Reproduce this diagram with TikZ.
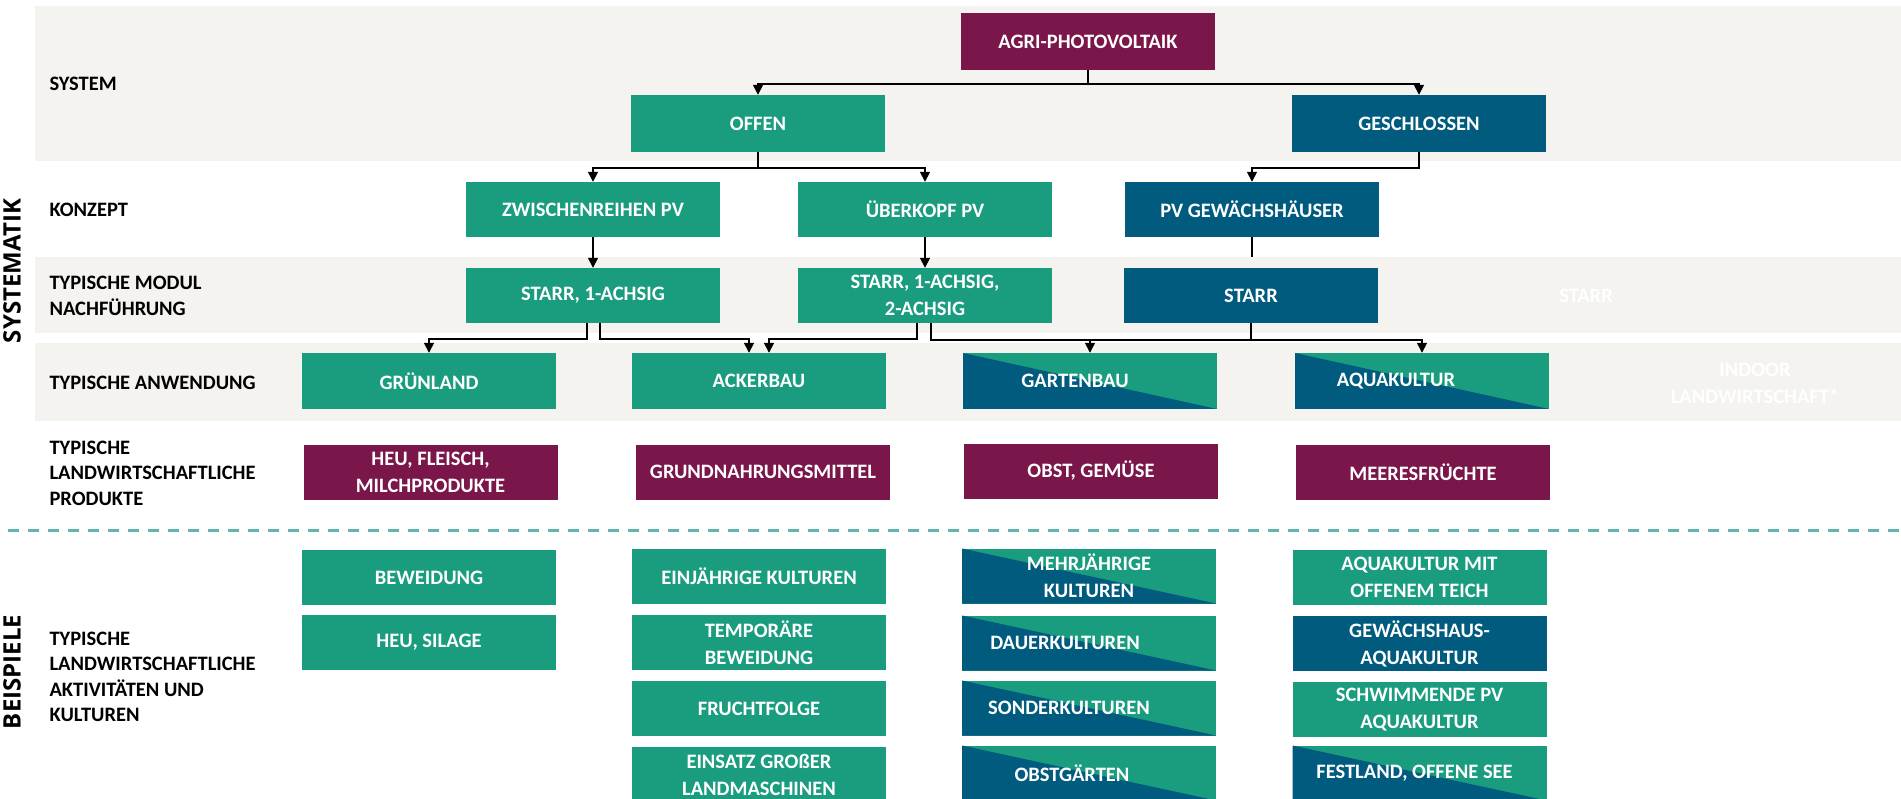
\documentclass[tikz,border=0pt]{standalone}
\usepackage{fontspec}
\setmainfont{Carlito}
\newfontfamily\sidefont{Open Sans}
\usetikzlibrary{arrows.meta}
\definecolor{grn}{HTML}{1A9D7F}
\definecolor{blu}{HTML}{005B7E}
\definecolor{pur}{HTML}{7A1649}
\definecolor{bandcol}{HTML}{F4F3EF}
\definecolor{sepcol}{HTML}{62B4B1}

\begin{document}
\begin{tikzpicture}[x=1pt,y=-1pt,
  box/.style={minimum width=254pt,minimum height=55pt,inner sep=0pt,align=center,
    text=white,font=\bfseries\fontsize{20.5}{27}\selectfont},
  grnbox/.style={box,fill=grn},
  blubox/.style={box,fill=blu},
  purbox/.style={box,fill=pur},
  splitbox/.style={box,fill=grn,path picture={\fill[blu]
    (path picture bounding box.north west) -- (path picture bounding box.south east)
    -- (path picture bounding box.south west) -- cycle;}},
  lbl/.style={anchor=west,align=left,font=\bfseries\fontsize{20.5}{25.5}\selectfont},
  side/.style={rotate=90,font=\sidefont\bfseries\fontsize{24}{28}\selectfont},
  conn/.style={line width=1.5pt},
  arr/.style={conn,-{Triangle[length=10pt,width=10pt]}}]
\useasboundingbox (0,0) rectangle (1901,799);

\fill[bandcol] (35,6) rectangle (1901,161);
\fill[bandcol] (35,257) rectangle (1901,333);
\fill[bandcol] (35,343) rectangle (1901,421);
\draw[sepcol,line width=3pt,dash pattern=on 11pt off 9pt,dash phase=-8pt] (0,530) -- (1901,530);

\node[side] (systematik) at (12,271) {SYSTEMATIK};
\node[side] (beispiele) at (12,672) {BEISPIELE};

\node[lbl] (l1) at (46,84) {SYSTEM};
\node[lbl] (l2) at (46,210) {KONZEPT};
\node[lbl] (l3) at (46,296) {TYPISCHE MODUL\\NACHFÜHRUNG};
\node[lbl] (l4) at (46,383) {TYPISCHE ANWENDUNG};
\node[lbl] (l5) at (46,473) {TYPISCHE\\LANDWIRTSCHAFTLICHE\\PRODUKTE};
\node[lbl] (l6) at (46,677) {TYPISCHE\\LANDWIRTSCHAFTLICHE\\AKTIVITÄTEN UND\\KULTUREN};

\node[purbox,minimum height=57pt] (agri) at (1088,41.5) {AGRI-PHOTOVOLTAIK};
\node[grnbox,minimum height=57pt] (offen) at (758,123.5) {OFFEN};
\node[blubox,minimum height=57pt] (geschl) at (1419,123.5) {GESCHLOSSEN};

\node[grnbox] (zwisch) at (593,209.5) {ZWISCHENREIHEN PV};
\node[grnbox] (ueber) at (925,209.5) {ÜBERKOPF PV};
\node[blubox] (pvgew) at (1252,209.5) {PV GEWÄCHSHÄUSER};

\node[grnbox] (mod1) at (593,295.5) {STARR, 1-ACHSIG};
\node[grnbox] (mod2) at (925,295.5) {STARR, 1-ACHSIG,\\2-ACHSIG};
\node[blubox] (mod3) at (1251,295.5) {STARR};
\node[box] (mod4) at (1586,295.5) {STARR};

\node[grnbox,minimum height=56pt] (gruen) at (429,381) {GRÜNLAND};
\node[grnbox,minimum height=56pt] (acker) at (759,381) {ACKERBAU};
\node[splitbox,minimum height=56pt] (garten) at (1090,381) {GARTENBAU\hspace*{30pt}};
\node[splitbox,minimum height=56pt] (aqua) at (1422,381) {AQUAKULTUR\hspace*{52pt}};
\node[box] (indoor) at (1755,383) {INDOOR\\LANDWIRTSCHAFT*};

\node[purbox] (heu) at (430.5,472) {HEU, FLEISCH,\\MILCHPRODUKTE};
\node[purbox] (grund) at (763,472) {GRUNDNAHRUNGSMITTEL};
\node[purbox] (obst) at (1091,471) {OBST, GEMÜSE};
\node[purbox] (meer) at (1423,472) {MEERESFRÜCHTE};

\foreach \t/\y [count=\i] in {BEWEIDUNG/577.5, {HEU, SILAGE}/642.5}
  \node[grnbox] (ackt\i) at (429,\y) {\t};
\foreach \t/\y [count=\i] in {EINJÄHRIGE KULTUREN/576.5, {TEMPORÄRE\\BEWEIDUNG}/642.5,
    FRUCHTFOLGE/708.5, {EINSATZ GROßER\\LANDMASCHINEN}/774.5}
  \node[grnbox] (feld\i) at (759,\y) {\t};
\foreach \t/\y/\s [count=\i] in {{MEHRJÄHRIGE\\KULTUREN}/576/0, DAUERKULTUREN/643/48,
    SONDERKULTUREN/708/40, OBSTGÄRTEN/773/34}
  \node[splitbox] (garten\i) at (1089,\y) {\t\hspace*{\s pt}};
\node[grnbox] (teich) at (1419.5,577.5) {AQUAKULTUR MIT\\OFFENEM TEICH};
\node[blubox] (ghaus) at (1419.5,643.5) {GEWÄCHSHAUS-\\AQUAKULTUR};
\node[grnbox] (schwimm) at (1419.5,709.5) {SCHWIMMENDE PV\\AQUAKULTUR};
\node[splitbox] (festland) at (1419.5,773) {FESTLAND, OFFENE SEE\hspace*{10pt}};

\draw[arr] (agri.south) -- ++(0,14) -| (offen.north);
\draw[arr] (agri.south) -- ++(0,14) -| (geschl.north);
\draw[arr] (offen.south) -- ++(0,16) -| (zwisch.north);
\draw[arr] (offen.south) -- ++(0,16) -| (ueber.north);
\draw[arr] (geschl.south) -- ++(0,16) -| (pvgew.north);
\draw[arr] (zwisch.south) -- (mod1.north);
\draw[arr] (ueber.south) -- (mod2.north);
\draw[conn] (pvgew.south) -- ++(0,20);
\draw[arr] ([xshift=-6pt]mod1.south) -- ++(0,16) -| (gruen.north);
\draw[arr] ([xshift=7pt]mod1.south) -- ++(0,16) -| ([xshift=-10pt]acker.north);
\draw[arr] ([xshift=-8pt]mod2.south) -- ++(0,16) -| ([xshift=10pt]acker.north);
\draw[arr] ([xshift=6pt]mod2.south) -- ++(0,17) -| (garten.north);
\draw[arr] ([xshift=6pt]mod2.south) -- ++(0,17) -| (aqua.north);
\draw[conn] (mod3.south) -- ++(0,17);
\end{tikzpicture}
\end{document}
